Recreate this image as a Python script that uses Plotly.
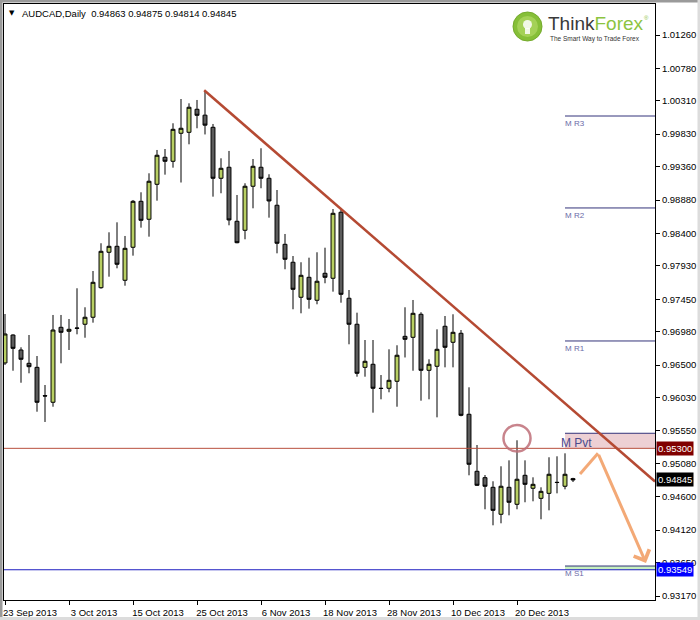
import plotly.graph_objects as go

# ---------------- data ----------------
dates = [
    "2013-09-23", "2013-09-24", "2013-09-25", "2013-09-26", "2013-09-27", "2013-09-30",
    "2013-10-01", "2013-10-02", "2013-10-03", "2013-10-04", "2013-10-07", "2013-10-08",
    "2013-10-09", "2013-10-10", "2013-10-11", "2013-10-14", "2013-10-15", "2013-10-16",
    "2013-10-17", "2013-10-18", "2013-10-21", "2013-10-22", "2013-10-23", "2013-10-24",
    "2013-10-25", "2013-10-28", "2013-10-29", "2013-10-30", "2013-10-31", "2013-11-01",
    "2013-11-04", "2013-11-05", "2013-11-06", "2013-11-07", "2013-11-08", "2013-11-11",
    "2013-11-12", "2013-11-13", "2013-11-14", "2013-11-15", "2013-11-18", "2013-11-19",
    "2013-11-20", "2013-11-21", "2013-11-22", "2013-11-25", "2013-11-26", "2013-11-27",
    "2013-11-28", "2013-11-29", "2013-12-02", "2013-12-03", "2013-12-04", "2013-12-05",
    "2013-12-06", "2013-12-09", "2013-12-10", "2013-12-11", "2013-12-12", "2013-12-13",
    "2013-12-16", "2013-12-17", "2013-12-18", "2013-12-19", "2013-12-20", "2013-12-23",
    "2013-12-24", "2013-12-26", "2013-12-27", "2013-12-30", "2013-12-31", "2014-01-02",
]

opens = [0.96531, 0.96934, 0.96718, 0.96526, 0.96468, 0.96059, 0.95964, 0.97045, 0.96988, 0.97035,
         0.97089, 0.97190, 0.97616, 0.98127, 0.98213, 0.97723, 0.98199, 0.98862, 0.98603, 0.99107,
         0.99497, 0.99439, 0.99843, 0.99857, 1.00189, 1.00104, 0.99929, 0.99194, 0.99353, 0.98574,
         0.98444, 0.99079, 0.99353, 0.99194, 0.98805, 0.98242, 0.97983, 0.97478, 0.97766, 0.97435,
         0.97824, 0.97752, 0.98704, 0.97464, 0.97089, 0.96468, 0.96512, 0.96166, 0.96166, 0.96267,
         0.96915, 0.96901, 0.97233, 0.96425, 0.96483, 0.97060, 0.96829, 0.96959, 0.95791, 0.94969,
         0.94877, 0.94738, 0.94349, 0.94738, 0.94493, 0.94911, 0.94724, 0.94579, 0.94651, 0.94810,
         0.94753, 0.94863]

highs = [0.97237, 0.96944, 0.96757, 0.96934, 0.96631, 0.96213, 0.97223, 0.97223, 0.97165, 0.97608,
         0.97334, 0.97857, 0.98257, 0.98415, 0.98559, 0.98362, 0.98881, 0.98992, 0.99266, 0.99602,
         0.99616, 0.99987, 1.00337, 1.00275, 1.00323, 1.00453, 0.99977, 0.99482, 0.99588, 0.98953,
         0.99122, 0.99472, 0.99627, 0.99252, 0.99025, 0.98391, 0.98073, 0.97983, 0.98049, 0.98127,
         0.98193, 0.98751, 0.98751, 0.97583, 0.97256, 0.96862, 0.96862, 0.96357, 0.96728, 0.96786,
         0.97334, 0.97439, 0.97262, 0.96584, 0.97016, 0.97208, 0.97233, 0.97006, 0.96180, 0.95348,
         0.94915, 0.94825, 0.95041, 0.95127, 0.95416, 0.95127, 0.94882, 0.94738, 0.95171, 0.95185,
         0.95228, 0.94875]

lows = [0.96502, 0.96419, 0.96246, 0.96382, 0.95828, 0.95680, 0.95900, 0.96526, 0.96718, 0.96944,
        0.96895, 0.97112, 0.97602, 0.97775, 0.97896, 0.97645, 0.98078, 0.98482, 0.98352, 0.98871,
        0.99246, 0.99347, 0.99133, 0.99684, 0.99915, 0.99826, 0.98929, 0.98978, 0.98516, 0.98257,
        0.98314, 0.98761, 0.99050, 0.98626, 0.98112, 0.97882, 0.97305, 0.97247, 0.97314, 0.97377,
        0.97680, 0.97559, 0.97400, 0.96800, 0.96333, 0.96333, 0.95814, 0.96007, 0.96108, 0.95900,
        0.96610, 0.96419, 0.95987, 0.96007, 0.95747, 0.96468, 0.96468, 0.95762, 0.94911, 0.94757,
        0.94421, 0.94190, 0.94219, 0.94334, 0.94421, 0.94522, 0.94536, 0.94277, 0.94406, 0.94651,
        0.94709, 0.94814]

closes = [0.96949, 0.96742, 0.96584, 0.96477, 0.95964, 0.96055, 0.97006, 0.96973, 0.97016, 0.97031,
          0.97190, 0.97694, 0.98141, 0.98213, 0.97954, 0.98184, 0.98862, 0.98588, 0.99151, 0.99526,
          0.99439, 0.99900, 0.99915, 1.00218, 1.00102, 0.99960, 0.99194, 0.99338, 0.98593, 0.98265,
          0.99079, 0.99367, 0.99194, 0.98867, 0.98257, 0.98026, 0.97593, 0.97795, 0.97449, 0.97709,
          0.97766, 0.98689, 0.97521, 0.97089, 0.96382, 0.96555, 0.96166, 0.96163, 0.96281, 0.96642,
          0.96872, 0.97247, 0.96425, 0.96512, 0.96728, 0.96757, 0.96973, 0.95776, 0.95070, 0.94767,
          0.94753, 0.94406, 0.94753, 0.94522, 0.94854, 0.94781, 0.94781, 0.94680, 0.94926, 0.94807,
          0.94926, 0.94845]

date_tick_labels = ["23 Sep 2013", "3 Oct 2013", "15 Oct 2013", "25 Oct 2013", "6 Nov 2013",
                    "18 Nov 2013", "28 Nov 2013", "10 Dec 2013", "20 Dec 2013"]
date_tick_values = ["2013-09-23", "2013-10-03", "2013-10-15", "2013-10-25", "2013-11-06",
                    "2013-11-18", "2013-11-28", "2013-12-10", "2013-12-20"]

price_ticks = [1.01260, 1.00780, 1.00310, 0.99830, 0.99360, 0.98880, 0.98400, 0.97930, 0.97450,
               0.96980, 0.96500, 0.96030, 0.95550, 0.95080, 0.94600, 0.94120, 0.93650, 0.93170]

pivot_names = ["M R3", "M R2", "M R1", "M Pvt", "M S1"]
pivot_values = [1.00092, 0.98766, 0.96848, 0.95517, 0.93603]

resistance_level = 0.95300
target_level = 0.93549
last_price = 0.94845

title_text = "AUDCAD,Daily  0.94863 0.94875 0.94814 0.94845"

# ---------------- layout helpers (pixel positions) ----------------
W, H = 700, 620
ML, MR, MT, MB = 4, 45, 4, 20
PW, PH = W - ML - MR, H - MT - MB
X_RANGE = [-0.125, 81.25]
Y_RANGE = [0.93113, 1.01707]


def px_x(X):
    return (X - ML) / PW


def px_y(Y):
    return 1 - (Y - MT) / PH


FONT = "Liberation Sans, Arial, sans-serif"

fig = go.Figure()
fig.add_trace(go.Candlestick(
    x=dates, open=opens, high=highs, low=lows, close=closes,
    increasing=dict(line=dict(color="black", width=1), fillcolor="#b8cf63"),
    decreasing=dict(line=dict(color="black", width=1), fillcolor="#5c5c5c"),
    hoverinfo="skip", showlegend=False,
))

shapes = []
annotations = []

# window frame
shapes += [
    dict(type="rect", xref="paper", yref="paper", x0=px_x(0), x1=px_x(2.5), y0=px_y(620), y1=px_y(0),
         fillcolor="#9a9a9a", line=dict(width=0)),
    dict(type="rect", xref="paper", yref="paper", x0=px_x(0), x1=px_x(700), y0=px_y(2.5), y1=px_y(0),
         fillcolor="#9a9a9a", line=dict(width=0)),
    dict(type="rect", xref="paper", yref="paper", x0=px_x(697.5), x1=px_x(700), y0=px_y(620), y1=px_y(0),
         fillcolor="#dcdcdc", line=dict(width=0)),
    dict(type="rect", xref="paper", yref="paper", x0=px_x(0), x1=px_x(700), y0=px_y(620), y1=px_y(617),
         fillcolor="#dcdcdc", line=dict(width=0)),
]

# pivot zone highlight boxes
pivot_start = 70
x_end = X_RANGE[1]
pvt = pivot_values[pivot_names.index("M Pvt")]
s1 = pivot_values[pivot_names.index("M S1")]
shapes.append(dict(type="rect", xref="x", yref="y", x0=pivot_start, x1=x_end, y0=resistance_level, y1=pvt,
                   fillcolor="rgba(214,150,160,0.45)", line=dict(width=0), layer="below"))
shapes.append(dict(type="rect", xref="x", yref="y", x0=pivot_start, x1=x_end, y0=target_level, y1=s1,
                   fillcolor="#c6efbf", line=dict(width=0), layer="below"))

# pivot lines + labels
for name, val in zip(pivot_names, pivot_values):
    shapes.append(dict(type="line", xref="x", yref="y", x0=pivot_start, x1=x_end, y0=val, y1=val,
                       line=dict(color="#33337a", width=1)))
    if name == "M Pvt":
        annotations.append(dict(x=pivot_start, y=val, xref="x", yref="y", text=name, showarrow=False,
                                xanchor="left", yanchor="top", xshift=-6, yshift=-1,
                                font=dict(family=FONT, size=12, color="#4a4a8c")))
    else:
        annotations.append(dict(x=pivot_start, y=val, xref="x", yref="y", text=name, showarrow=False,
                                xanchor="left", yanchor="top", xshift=-2, yshift=-1,
                                font=dict(family=FONT, size=8, color="#6a6aa8")))

# horizontal levels
shapes.append(dict(type="line", xref="paper", yref="y", x0=0, x1=1, y0=resistance_level, y1=resistance_level,
                   line=dict(color="#b9503e", width=1)))
shapes.append(dict(type="line", xref="paper", yref="y", x0=0, x1=1, y0=target_level, y1=target_level,
                   line=dict(color="#1c1cc0", width=1)))

# trend line through two swing highs
i0, i1 = 25, 42
slope = (highs[i1] - highs[i0]) / (i1 - i0)
shapes.append(dict(type="line", xref="x", yref="y", x0=i0 - 0.1, y0=highs[i0] - slope * 0.1,
                   x1=x_end, y1=highs[i0] + slope * (x_end - i0),
                   line=dict(color="#b54a33", width=2.5)))

# circle around the rejected high
ic = 64
shapes.append(dict(type="circle", xref="x", yref="y", x0=ic - 1.69, x1=ic + 1.69,
                   y0=highs[ic] + 0.0003 - 0.00192, y1=highs[ic] + 0.0003 + 0.00192,
                   line=dict(color="rgba(190,110,120,0.85)", width=2.5)))

# orange projection arrows
arrow_pts = [(71.875, 0.94930), (74.125, 0.95228), (80.125, 0.93647)]
shapes.append(dict(type="line", xref="x", yref="y", x0=arrow_pts[0][0], y0=arrow_pts[0][1],
                   x1=arrow_pts[1][0], y1=arrow_pts[1][1], line=dict(color="rgba(242,160,104,0.9)", width=3)))
annotations.append(dict(x=arrow_pts[2][0], y=arrow_pts[2][1], ax=arrow_pts[1][0], ay=arrow_pts[1][1],
                        xref="x", yref="y", axref="x", ayref="y", text="", showarrow=True,
                        arrowhead=4, arrowsize=1.1, arrowwidth=3, arrowcolor="rgba(242,160,104,0.9)"))

# price labels on axis
for val, bg in [(resistance_level, "#800000"), (last_price, "#000000"), (target_level, "#0000ff")]:
    annotations.append(dict(x=1, y=val, xref="paper", yref="y", text=f"{val:.5f}", showarrow=False,
                            xanchor="left", xshift=1, bgcolor=bg, borderpad=1,
                            font=dict(family=FONT, size=9.5, color="white")))

# title
annotations.append(dict(x=px_x(12), y=px_y(13), xref="paper", yref="paper", text="▼", showarrow=False,
                        xanchor="center", yanchor="middle", font=dict(family="DejaVu Sans", size=7, color="black")))
annotations.append(dict(x=px_x(20), y=px_y(13), xref="paper", yref="paper", text=title_text, showarrow=False,
                        xanchor="left", yanchor="middle", font=dict(family=FONT, size=9.5, color="black")))

# logo
shapes += [
    dict(type="circle", xref="paper", yref="paper", x0=px_x(513), x1=px_x(542), y0=px_y(41), y1=px_y(12),
         fillcolor="#86bf38", line=dict(color="#74aa2c", width=1)),
    dict(type="circle", xref="paper", yref="paper", x0=px_x(517), x1=px_x(538), y0=px_y(37), y1=px_y(16),
         fillcolor="#a4d157", line=dict(width=0)),
    dict(type="circle", xref="paper", yref="paper", x0=px_x(523), x1=px_x(532), y0=px_y(29), y1=px_y(20),
         fillcolor="rgba(255,255,255,0.85)", line=dict(width=0)),
    dict(type="rect", xref="paper", yref="paper", x0=px_x(525), x1=px_x(530), y0=px_y(34), y1=px_y(28),
         fillcolor="rgba(255,255,255,0.85)", line=dict(width=0)),
]
annotations.append(dict(x=px_x(546), y=px_y(23), xref="paper", yref="paper",
                        text="<span style='color:#3a3a3a'>Think</span><span style='color:#8cc43f'>Forex</span>",
                        showarrow=False, xanchor="left", yanchor="middle",
                        font=dict(family=FONT, size=19)))
annotations.append(dict(x=px_x(548), y=px_y(39), xref="paper", yref="paper",
                        text="The Smart Way to Trade Forex", showarrow=False, xanchor="left", yanchor="middle",
                        font=dict(family=FONT, size=6.5, color="#333333")))
annotations.append(dict(x=px_x(646), y=px_y(18), xref="paper", yref="paper", text="®", showarrow=False,
                        xanchor="center", yanchor="middle", font=dict(family=FONT, size=6, color="#8cc43f")))

fig.update_layout(
    width=W, height=H,
    margin=dict(l=ML, r=MR, t=MT, b=MB, pad=0),
    paper_bgcolor="white", plot_bgcolor="white",
    font=dict(family=FONT, size=9.5, color="black"),
    showlegend=False,
    shapes=shapes,
    annotations=annotations,
    xaxis=dict(
        type="category", range=X_RANGE, rangeslider=dict(visible=False),
        tickmode="array", tickvals=date_tick_values, ticktext=date_tick_labels,
        ticks="outside", ticklen=4, tickcolor="black", ticklabelshift=25,
        showgrid=False, zeroline=False, showline=True, linecolor="black", linewidth=1, mirror=True,
        fixedrange=True, automargin=False,
    ),
    yaxis=dict(
        side="right", range=Y_RANGE, tickmode="array", tickvals=price_ticks,
        ticktext=[f"{v:.5f}" for v in price_ticks],
        ticks="outside", ticklen=4, tickcolor="black",
        showgrid=False, zeroline=False, showline=True, linecolor="black", linewidth=1, mirror=True,
        fixedrange=True, automargin=False,
    ),
)

fig.write_html(
    "out.html",
    config={"displayModeBar": False},
    post_script="document.body.style.margin='0';document.body.style.overflow='hidden';",
)
